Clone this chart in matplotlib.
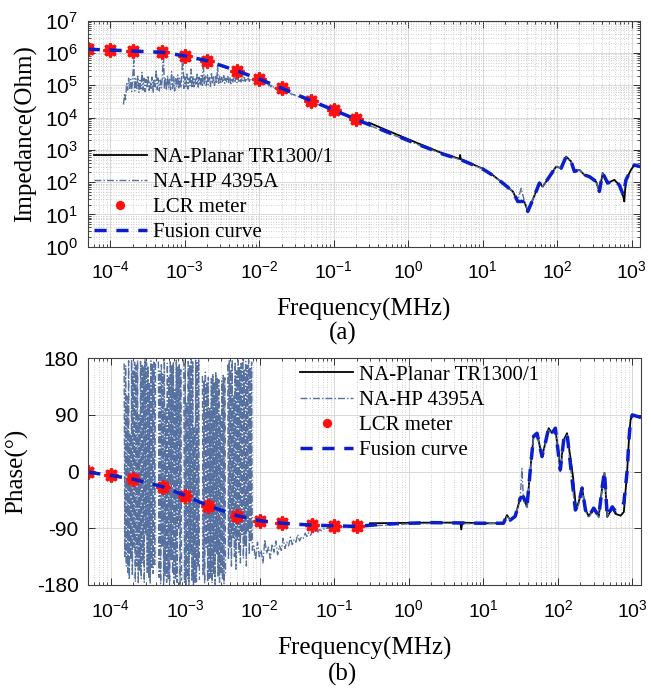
import numpy as np
import matplotlib
matplotlib.use('Agg')
import matplotlib.pyplot as plt
from matplotlib.ticker import LogLocator, FixedLocator, NullFormatter

plt.rcParams['font.family'] = 'Liberation Sans'
plt.rcParams['mathtext.default'] = 'regular'
plt.rcParams['axes.unicode_minus'] = False
SERIF = 'Liberation Serif'

# ---------------- data (frequency in MHz) ----------------
# LCR meter
lcr_freq = [5e-5, 1e-4, 2e-4, 5e-4, 1e-3, 2e-3, 5e-3, 1e-2, 2e-2, 5e-2, 0.1, 0.2]
lcr_logz = [6.115, 6.09, 6.06, 6.02, 5.91, 5.76, 5.45, 5.195, 4.91, 4.52, 4.235, 3.945]
lcr_phase = [-1, -6, -12, -24, -38, -54, -70, -78, -82, -85, -86, -87]

# NA-Planar TR1300/1 (impedance)
planar_freq_z = [0.3, 0.5, 1, 1.43, 3, 4.9, 5.0, 5.1, 10, 13.5, 18.7, 25.5, 29.7, 36.6, 40.5,
                 47.2, 58.1, 64.3, 79.1, 97.3, 113.5, 132.4, 154.5, 171, 199.5, 232.8, 271.6,
                 334, 370, 410, 478.6, 587, 685, 776, 800, 820, 843, 984, 1091, 1300]
planar_logz = [3.84, 3.62, 3.33, 3.18, 2.88, 2.72, 2.84, 2.71, 2.42, 2.23, 1.97, 1.71, 1.40,
               1.38, 1.10, 1.45, 1.97, 1.86, 2.17, 2.48, 2.43, 2.79, 2.64, 2.33, 2.38, 2.22,
               2.17, 2.02, 1.71, 2.28, 1.97, 2.07, 1.91, 1.55, 1.40, 1.75, 2.07, 2.38, 2.53, 2.48]

# NA-HP 4395A (impedance): noisy low-frequency sweep, then smooth part
hp_noisy_logz = [
    4.40, 4.75, 4.55, 5.05, 4.85, 5.22, 4.90, 5.18, 4.80, 5.25, 5.78,
    4.82, 5.20, 4.90, 5.28, 4.78, 5.15, 4.88, 5.40, 4.85, 5.22, 4.80, 5.18, 4.92, 5.30,
    4.84, 5.12, 4.90, 5.25, 4.78, 5.20, 4.95, 5.48, 4.86, 5.22, 4.82, 5.16, 4.92, 5.28, 6.05,
    4.88, 5.24, 4.84, 5.30, 4.92, 5.18, 4.86, 5.42, 4.90, 5.26, 4.82, 5.20, 4.95, 5.32,
    4.88, 5.22, 4.92, 5.28, 6.02,
    4.90, 5.26, 4.96, 5.35, 4.88, 5.22, 4.98, 5.50, 4.92, 5.28, 4.95, 5.20, 5.00, 5.34,
    4.94, 5.25, 5.00, 5.30, 4.96, 5.75,
    5.00, 5.28, 4.98, 5.32, 5.02, 5.24, 4.96, 5.36, 5.04, 5.26, 5.00, 5.30, 5.05, 5.60,
    5.06, 5.28, 5.04, 5.24, 5.08, 5.30, 5.06, 5.22, 5.10, 5.28, 5.08, 5.25, 5.05, 5.22,
    5.10, 5.26, 5.12, 5.24, 5.08, 5.22, 5.12, 5.26, 5.10, 5.22, 5.14, 5.24, 5.12, 5.22,
    5.14, 5.22, 5.12, 5.20, 5.16,
    5.18, 5.24, 5.14, 5.20, 5.12, 5.18, 5.10, 5.16, 5.08, 5.14, 5.06, 5.12, 5.03, 5.08,
    5.00, 5.06, 4.98, 5.02, 4.95, 5.00, 4.93, 4.97, 4.90, 4.94, 4.88, 4.92, 4.85, 4.88,
    4.83, 4.86, 4.81, 4.83, 4.78, 4.80, 4.76, 4.78, 4.74, 4.75, 4.72, 4.73, 4.70, 4.71,
    4.68, 4.67]
hp_freq_z = [0.05, 0.1, 0.2, 0.5, 1, 1.43, 3, 4.9, 10, 13.5, 18.7, 25.5, 29.7, 33, 36.6, 40.5,
             47.2, 58.1, 64.3, 79.1, 97.3, 113.5, 132.4, 154.5, 171, 199.5, 232.8, 271.6, 334,
             370, 410, 478.6]
hp_logz = [4.49, 4.21, 3.93, 3.55, 3.28, 3.14, 2.86, 2.70, 2.41, 2.22, 1.97, 1.72, 1.42, 1.81,
           1.40, 1.12, 1.46, 1.96, 1.86, 2.17, 2.48, 2.43, 2.78, 2.64, 2.33, 2.38, 2.22, 2.17,
           2.02, 1.72, 2.27, 1.97]

# Fusion curve (impedance)
fusion_freq_z = [5e-5, 1e-4, 2e-4, 5e-4, 1e-3, 2e-3, 5e-3, 1e-2, 2e-2, 5e-2, 0.1, 0.2, 0.5, 1,
                 1.43, 3, 4.9, 10, 13.5, 18.7, 25.5, 29.7, 36.6, 40.5, 47.2, 58.1, 64.3, 79.1,
                 97.3, 113.5, 132.4, 154.5, 171, 199.5, 232.8, 271.6, 334, 370, 410, 478.6, 587,
                 685, 776, 843, 984, 1091, 1300]
fusion_logz = [6.115, 6.09, 6.06, 6.02, 5.91, 5.76, 5.45, 5.195, 4.91, 4.52, 4.235, 3.945, 3.57,
               3.29, 3.15, 2.86, 2.71, 2.41, 2.22, 1.97, 1.71, 1.40, 1.40, 1.09, 1.45, 1.97,
               1.86, 2.17, 2.48, 2.43, 2.79, 2.64, 2.33, 2.38, 2.22, 2.17, 2.02, 1.71, 2.28,
               1.97, 2.07, 1.91, 1.60, 2.07, 2.38, 2.53, 2.48]

# Phase: fusion curve
fusion_freq_p = [5e-5, 1e-4, 2e-4, 5e-4, 1e-3, 2e-3, 5e-3, 1e-2, 2e-2, 5e-2, 0.1, 0.2, 0.5, 2,
                 10, 18.6, 20.7, 22.9, 26.7, 31.2, 34.5, 38.4, 42.6, 47.1, 52.4, 61.1, 67.6,
                 75.0, 83.4, 92.3, 107.6, 119.4, 132.4, 154.9, 171.4, 190.1, 210.9, 233.9,
                 258.8, 302, 353, 393, 421, 458, 535, 593, 692, 766, 851, 895, 942, 993, 1300]
fusion_phase = [-1, -6, -12, -24, -38, -54, -70, -78, -82, -85, -86, -87, -83, -81, -82, -82,
                -69, -77, -71, -42, -40, -56, 3, 56, 61, 24, 45, 69, 61, 69, 3, 50, 61, -13,
                -61, -50, -26, -61, -71, -58, -71, -24, 0, -71, -56, -63, -58, -50, 3, 50, 82,
                90, 86]

# Phase: NA-Planar
planar_freq_p = [0.3, 2, 4.9, 5.05, 5.2, 10, 18.6, 20.7, 22.9, 26.7, 31.2, 34.5, 38.4, 42.6,
                 47.1, 52.4, 61.1, 67.6, 75.0, 83.4, 92.3, 107.6, 119.4, 132.4, 160, 175, 190.1,
                 210.9, 233.9, 258.8, 302, 353, 393, 421, 458, 535, 593, 692, 766, 851, 895,
                 942, 993, 1300]
planar_phase = [-82, -81, -81, -92, -81, -82, -82, -69, -77, -71, -42, -40, -56, 3, 56, 61, 24,
                45, 69, 61, 69, 3, 50, 61, -10, -60, -48, -26, -60, -71, -58, -71, -24, -2, -72,
                -58, -67, -70, -64, 3, 50, 82, 90, 86]

# Phase: NA-HP 4395A, wrapped noisy sweep (nan = gap between bursts)
nan = np.nan
hp_noisy_phase = [
    172, -135, 168, -150, 120, -160, 176, -172, 60, -140, 178, -165, 160, -120, 174, -175,
    169, -150, 177, -178, 90, -158, 175, -170, 171, -145, 166, -176, 178, -100, 173, -160,
    168, -168, 140, -177, 176, -152, 170, -162, 174, -148, 172,
    nan, nan, nan,
    175, -168, 160, -178, 170, -120, 155, -180, 178, -165, 100, -176, 172, -170, 150, -179,
    176, -140, 168, -162, 174, -178, 130, -171, 177, -176, 166, -90, 171, -179, 162, -173,
    nan, nan,
    178, -176, 172, -180, 110, -170, 175, -179, 168, -130, 180, -174, 176, -180, 70, -178,
    177, -175, 173, -150, 179, -172,
    nan, nan, nan,
    152, -165, 145, -178, 158, -120, 142, -175, 150, -170, 100, -168, 148, -177, 155, -162,
    143, -179, 157, -130, 150, -166, 146, -176, 90, -160, 144, -172, 153, -178, 149, -165,
    nan, nan,
    170, -140, 176, -120, 162, -150, 178, -105, 120, -135, 174, -155, 160, -110, 177, -128,
    165, -145, 172, -100, 178, -138, 163, -118, 175, -150, 169, -96, 177, -132, 166, -112,
    174, -125]
hp_tail_phase = [-118, -140, -112, -135, -125, -145, -108, -130, -120, -138, -115, -128, -110,
                 -132, -118, -125, -106, -122, -112, -118, -104, -116, -108, -112, -100, -110,
                 -104, -106, -98, -103, -97, -101, -95, -98, -93, -96, -92, -94, -91, -92, -90,
                 -90, -89, -89, -88]
hp_freq_p = [0.2, 0.5, 1, 3, 10, 18.6, 20.7, 22.9, 26.7, 31.2, 32.9, 34.5, 38.4, 42.6, 47.1,
             52.4, 61.1, 67.6, 75.0, 83.4, 92.3, 107.6, 119.4, 132.4, 154.9, 171.4, 190.1,
             210.9, 233.9, 258.8, 302, 353, 393, 421, 458, 500]
hp_phase = [-87, -85, -83, -82, -83, -82, -70, -77, -72, -44, 5, -45, -58, 0, 54, 58, 20, 42,
            66, 60, 66, 0, 46, 58, -18, -64, -52, -28, -63, -73, -60, -73, -26, -2, -72, -62]

# sweep grids of the HP analyser (log spaced points)
hp_noisy_freq_z = np.logspace(-3.82, -1.5, len(hp_noisy_logz))
hp_noisy_freq_p = np.logspace(-3.82, -2.10, len(hp_noisy_phase))
hp_tail_freq_p = np.logspace(-2.08, -1.0, len(hp_tail_phase))

x_ticks = [1e-4, 1e-3, 1e-2, 1e-1, 1e0, 1e1, 1e2, 1e3]

# ---------------- styles ----------------
c_planar = 'black'
c_hp = '#56709f'
c_lcr = '#ff1010'
c_fus = '#0a1ecc'
fs_xtick = 14
fs_ytick = 15
fs_lab = 18
fs_leg = 15


def style_axes(ax):
    ax.set_xscale('log')
    ax.set_xlim(5e-5, 1.3e3)
    ax.xaxis.set_major_locator(FixedLocator(x_ticks))
    ax.xaxis.set_minor_locator(LogLocator(base=10, subs=np.arange(2, 10), numticks=40))
    ax.xaxis.set_minor_formatter(NullFormatter())
    ax.grid(True, which='major', color='#d8d8d8', lw=0.7, ls='-')
    ax.grid(True, which='minor', axis='x', color='#c0c0c0', lw=0.6, ls=(0, (1, 2)))
    ax.set_axisbelow(True)
    ax.tick_params(which='both', direction='in', top=True, right=True, color='#303030')
    ax.tick_params(which='major', length=5, width=0.7)
    ax.tick_params(which='minor', length=2.5, width=0.6)
    ax.tick_params(axis='x', which='major', pad=10, labelsize=fs_xtick)
    ax.tick_params(axis='y', which='major', pad=7, labelsize=fs_ytick)
    for s in ax.spines.values():
        s.set_color('#404040')
        s.set_linewidth(0.8)
    ax.set_xlabel('Frequency(MHz)', fontsize=fs_lab, family=SERIF)
    ax.xaxis.set_label_coords(0.5, -0.228)


fig = plt.figure(figsize=(6.51, 6.89), dpi=100)
ax1 = fig.add_axes([0.1347, 0.642, 0.8484, 0.328])
ax2 = fig.add_axes([0.1356, 0.151, 0.849, 0.329])

leg_kw = dict(loc='upper left', frameon=False, prop={'family': SERIF, 'size': fs_leg},
              handlelength=2.55, handletextpad=0.3, labelspacing=0.27, borderpad=0,
              borderaxespad=0, markerscale=0.6)
lcr_kw = dict(ls='none', marker=(8, 1, 0), ms=10, color=c_lcr, mec=c_lcr, mew=2.0)
hp_kw = dict(color=c_hp, lw=1.0, dashes=(5, 1.5, 1, 1.5))
fus_kw = dict(color=c_fus, lw=2.5, dashes=(3.5, 2.8))

# ---- (a) impedance ----
style_axes(ax1)
ax1.set_yscale('log')
ax1.set_ylim(1, 1e7)
ax1.yaxis.set_major_locator(FixedLocator([1e0, 1e1, 1e2, 1e3, 1e4, 1e5, 1e6, 1e7]))
ax1.yaxis.set_minor_locator(LogLocator(base=10, subs=np.arange(2, 10), numticks=40))
ax1.yaxis.set_minor_formatter(NullFormatter())
ax1.grid(True, which='minor', axis='y', color='#c0c0c0', lw=0.6, ls=(0, (1, 2)))

ax1.plot(planar_freq_z, 10 ** np.array(planar_logz), color=c_planar, lw=1.3,
         label='NA-Planar TR1300/1')
ax1.plot(np.concatenate([hp_noisy_freq_z, hp_freq_z]),
         10 ** np.concatenate([hp_noisy_logz, hp_logz]), label='NA-HP 4395A', **hp_kw)
ax1.plot(lcr_freq, 10 ** np.array(lcr_logz), label='LCR meter', **lcr_kw)
ax1.plot(fusion_freq_z, 10 ** np.array(fusion_logz), label='Fusion curve', **fus_kw)
ax1.set_ylabel('Impedance(Ohm)', fontsize=fs_lab, family=SERIF)
ax1.yaxis.set_label_coords(-0.092, 0.5)
ax1.legend(bbox_to_anchor=(0.011, 0.44), **leg_kw)

# ---- (b) phase ----
style_axes(ax2)
ax2.set_ylim(-180, 180)
ax2.yaxis.set_major_locator(FixedLocator([-180, -90, 0, 90, 180]))
ax2.plot(planar_freq_p, planar_phase, color=c_planar, lw=1.3, label='NA-Planar TR1300/1')
ax2.plot(np.concatenate([hp_noisy_freq_p, hp_tail_freq_p, hp_freq_p]),
         np.concatenate([hp_noisy_phase, hp_tail_phase, hp_phase]),
         label='NA-HP 4395A', **hp_kw)
ax2.plot(lcr_freq, lcr_phase, label='LCR meter', **lcr_kw)
ax2.plot(fusion_freq_p, fusion_phase, label='Fusion curve', **fus_kw)
ax2.set_ylabel('Phase(°)', fontsize=fs_lab, family=SERIF)
ax2.yaxis.set_label_coords(-0.109, 0.5)
ax2.legend(bbox_to_anchor=(0.383, 0.97), **leg_kw)

fig.text(0.526, 1 - 333 / 689, '(a)', ha='center', va='center', fontsize=fs_lab, family=SERIF)
fig.text(0.526, 1 - 674 / 689, '(b)', ha='center', va='center', fontsize=fs_lab, family=SERIF)

fig.savefig('out.png', dpi=100)
